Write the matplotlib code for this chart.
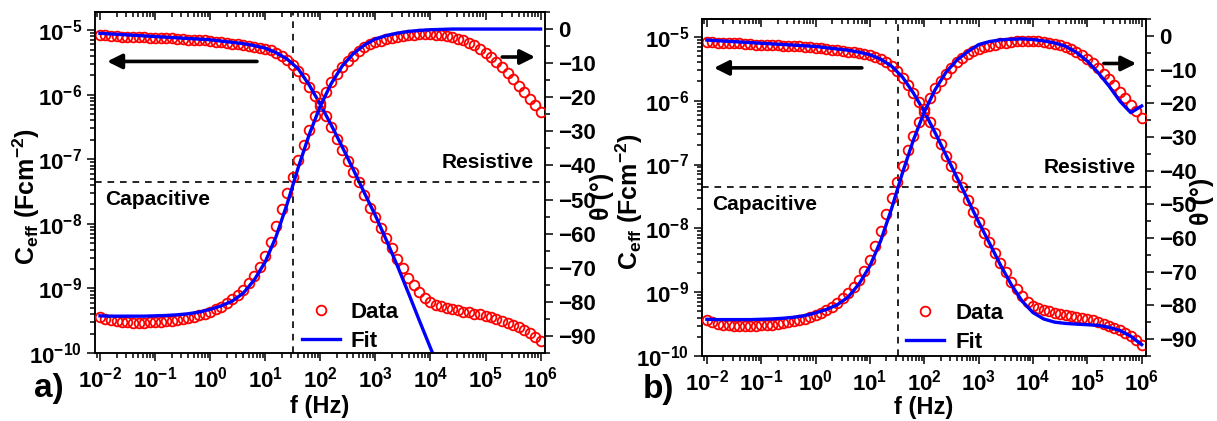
import numpy as np
import matplotlib
matplotlib.use('Agg')
import matplotlib.pyplot as plt
from matplotlib.ticker import LogLocator, FuncFormatter, NullFormatter, MultipleLocator

plt.rcParams['font.family'] = ['Liberation Sans', 'DejaVu Sans']
plt.rcParams['font.weight'] = 'bold'
plt.rcParams['mathtext.fontset'] = 'custom'
plt.rcParams['mathtext.rm'] = 'Liberation Sans:bold'
plt.rcParams['mathtext.it'] = 'Liberation Sans:bold'
plt.rcParams['mathtext.bf'] = 'Liberation Sans:bold'
plt.rcParams['axes.linewidth'] = 1.1

# measured frequencies (Hz), 10 points per decade
freq = [
    0.01, 0.0126, 0.0158, 0.02, 0.0251, 0.0316, 0.0398, 0.0501, 0.0631, 0.0794,
    0.1, 0.126, 0.158, 0.2, 0.251, 0.316, 0.398, 0.501, 0.631, 0.794,
    1.0, 1.26, 1.58, 2.0, 2.51, 3.16, 3.98, 5.01, 6.31, 7.94,
    10.0, 12.6, 15.8, 20.0, 25.1, 31.6, 39.8, 50.1, 63.1, 79.4,
    100.0, 126.0, 158.0, 200.0, 251.0, 316.0, 398.0, 501.0, 631.0, 794.0,
    1e3, 1.26e3, 1.58e3, 2e3, 2.51e3, 3.16e3, 3.98e3, 5.01e3, 6.31e3, 7.94e3,
    1e4, 1.26e4, 1.58e4, 2e4, 2.51e4, 3.16e4, 3.98e4, 5.01e4, 6.31e4, 7.94e4,
    1e5, 1.26e5, 1.58e5, 2e5, 2.51e5, 3.16e5, 3.98e5, 5.01e5, 6.31e5, 7.94e5,
    1e6,
]

# effective capacitance data (F cm^-2)
c_data = [
    8.32e-6, 8.32e-6, 8.13e-6, 8.13e-6, 7.94e-6, 7.94e-6, 7.94e-6, 7.76e-6, 7.76e-6, 7.59e-6,
    7.59e-6, 7.59e-6, 7.41e-6, 7.41e-6, 7.24e-6, 7.24e-6, 7.08e-6, 7.08e-6, 6.92e-6, 6.92e-6,
    6.76e-6, 6.61e-6, 6.46e-6, 6.31e-6, 6.17e-6, 6.03e-6, 5.89e-6, 5.75e-6, 5.50e-6, 5.37e-6,
    5.13e-6, 4.90e-6, 4.47e-6, 3.98e-6, 3.47e-6, 2.88e-6, 2.29e-6, 1.78e-6, 1.32e-6, 9.55e-7,
    6.76e-7, 4.68e-7, 3.16e-7, 2.09e-7, 1.38e-7, 9.33e-8, 6.31e-8, 4.37e-8, 2.82e-8, 1.78e-8,
    1.26e-8, 8.51e-9, 6.03e-9, 4.17e-9, 2.88e-9, 2.04e-9, 1.45e-9, 1.12e-9, 8.71e-10, 7.08e-10,
    6.17e-10, 5.62e-10, 5.25e-10, 5.01e-10, 4.79e-10, 4.57e-10, 4.37e-10, 4.27e-10, 4.07e-10, 3.98e-10,
    3.80e-10, 3.63e-10, 3.39e-10, 3.16e-10, 2.95e-10, 2.75e-10, 2.51e-10, 2.29e-10, 2.04e-10, 1.78e-10,
    1.51e-10,
]

# phase angle data (deg)
theta_data = [
    -84.4, -85.0, -85.4, -85.7, -85.9, -86.0, -86.1, -86.1, -86.1, -86.0,
    -85.9, -85.8, -85.7, -85.5, -85.3, -85.0, -84.7, -84.4, -84.0, -83.5,
    -82.9, -82.2, -81.4, -80.4, -79.2, -77.9, -76.4, -74.5, -72.3, -69.7,
    -66.6, -62.5, -57.9, -52.8, -48.0, -43.5, -38.5, -34.0, -29.6, -25.5,
    -21.8, -18.5, -15.6, -13.3, -11.2, -9.4, -7.8, -6.5, -5.4, -4.5,
    -3.9, -3.4, -3.0, -2.6, -2.2, -2.0, -1.8, -1.6, -1.5, -1.5,
    -1.5, -1.6, -1.8, -2.1, -2.4, -2.8, -3.3, -4.0, -4.8, -5.8,
    -6.9, -8.2, -9.6, -11.2, -12.9, -14.7, -16.6, -18.5, -20.4, -22.3,
    -24.3,
]

# frequencies of the fitted curves, 5 points per decade
freq_fit = [
    0.01, 0.0158, 0.0251, 0.0398, 0.0631,
    0.1, 0.158, 0.251, 0.398, 0.631,
    1.0, 1.58, 2.51, 3.98, 6.31,
    10.0, 15.8, 25.1, 39.8, 63.1,
    100.0, 158.0, 251.0, 398.0, 631.0,
    1e3, 1.58e3, 2.51e3, 3.98e3, 6.31e3,
    1e4, 1.58e4, 2.51e4, 3.98e4, 6.31e4,
    1e5, 1.58e5, 2.51e5, 3.98e5, 6.31e5,
    1e6,
]

# panel a fit
c_fit_a = [
    8.91e-6, 8.71e-6, 8.51e-6, 8.32e-6, 8.13e-6,
    7.94e-6, 7.76e-6, 7.59e-6, 7.41e-6, 7.24e-6,
    7.08e-6, 6.76e-6, 6.46e-6, 6.17e-6, 5.75e-6,
    5.25e-6, 4.47e-6, 3.55e-6, 2.51e-6, 1.41e-6,
    7.08e-7, 3.39e-7, 1.55e-7, 6.92e-8, 3.02e-8,
    1.35e-8, 5.62e-9, 2.24e-9, 8.51e-10, 3.16e-10,
    1.20e-10, 4.57e-11, 1.74e-11, 6.61e-12, 2.51e-12,
    9.55e-13, 3.63e-13, 1.38e-13, 5.25e-14, 2.00e-14,
    7.59e-15,
]
theta_fit_a = [
    -84.1, -84.2, -84.2, -84.2, -84.2,
    -84.1, -84.0, -83.8, -83.5, -83.0,
    -82.2, -81.2, -79.8, -77.5, -73.6,
    -68.3, -60.8, -51.2, -40.6, -30.9,
    -22.6, -16.0, -10.8, -7.2, -4.7,
    -2.9, -1.9, -1.2, -0.7, -0.4,
    -0.2, -0.1, 0.0, 0.0, 0.0,
    0.0, 0.0, 0.0, 0.0, 0.0,
    0.0,
]

# panel b fit
c_fit_b = [
    8.91e-6, 8.71e-6, 8.51e-6, 8.32e-6, 8.13e-6,
    7.94e-6, 7.76e-6, 7.59e-6, 7.41e-6, 7.24e-6,
    7.08e-6, 6.76e-6, 6.46e-6, 6.17e-6, 5.75e-6,
    5.25e-6, 4.47e-6, 3.47e-6, 2.34e-6, 1.32e-6,
    6.76e-7, 3.16e-7, 1.41e-7, 6.31e-8, 2.82e-8,
    1.26e-8, 5.89e-9, 2.69e-9, 1.32e-9, 7.24e-10,
    4.79e-10, 3.80e-10, 3.39e-10, 3.24e-10, 3.16e-10,
    3.09e-10, 3.02e-10, 2.82e-10, 2.51e-10, 2.04e-10,
    1.51e-10,
]
theta_fit_b = [
    -84.1, -84.2, -84.2, -84.2, -84.2,
    -84.1, -84.0, -83.8, -83.5, -83.0,
    -82.2, -81.2, -79.8, -77.5, -73.6,
    -68.3, -60.8, -51.2, -40.6, -30.9,
    -22.6, -16.0, -10.8, -7.2, -4.7,
    -2.6, -1.7, -1.2, -1.0, -0.9,
    -1.1, -1.5, -2.1, -3.1, -4.9,
    -7.5, -10.9, -14.9, -19.4, -22.8,
    -20.8,
]

f_cross = 32.4       # frequency where theta = -45 deg
theta_cross = -45.0

RED = '#ff0000'
BLUE = '#0000ff'


def log_label(v, pos):
    e = int(round(np.log10(v)))
    return r'$10^{%d}$' % e


def draw_panel(rect, c_fit, theta_fit, letter, letter_pos, geom):
    ax = fig.add_axes(rect)
    ax2 = ax.twinx()

    ax.plot(freq, c_data, 'o', mfc='none', mec=RED, ms=7, mew=1.3, zorder=3)
    ax.plot(freq_fit, c_fit, '-', color=BLUE, lw=2.4, zorder=4)
    ax2.plot(freq, theta_data, 'o', mfc='none', mec=RED, ms=7, mew=1.3, zorder=3, label='Data')
    ax2.plot(freq_fit, theta_fit, '-', color=BLUE, lw=2.4, zorder=4, label='Fit')

    ax.set_xscale('log')
    ax.set_yscale('log')
    ax.set_xlim(10 ** -2.09, 10 ** 6.08)
    ax.set_ylim(1e-10, 10 ** -4.72)
    ax2.set_ylim(-95, 5)

    ax.axvline(f_cross, color='black', ls=(0, (4, 3.5)), lw=1.2, zorder=2)
    ax2.axhline(theta_cross, color='black', ls=(0, (4, 3.5)), lw=1.2, zorder=2)

    ax.xaxis.set_major_locator(LogLocator(base=10, numticks=20))
    ax.xaxis.set_minor_locator(LogLocator(base=10, subs=np.arange(2, 10), numticks=20))
    ax.xaxis.set_major_formatter(FuncFormatter(log_label))
    ax.xaxis.set_minor_formatter(NullFormatter())
    ax.yaxis.set_major_locator(LogLocator(base=10, numticks=20))
    ax.yaxis.set_minor_locator(LogLocator(base=10, subs=np.arange(2, 10), numticks=20))
    ax.yaxis.set_major_formatter(FuncFormatter(log_label))
    ax.yaxis.set_minor_formatter(NullFormatter())
    ax2.yaxis.set_major_locator(MultipleLocator(10))
    ax2.yaxis.set_minor_locator(MultipleLocator(5))

    ax.tick_params(which='both', direction='out', width=1.1, labelsize=16, right=False)
    ax.tick_params(which='major', length=6)
    ax.tick_params(which='minor', length=3.5)
    ax2.tick_params(which='both', direction='out', width=1.1, labelsize=16)
    ax2.tick_params(which='major', length=6)
    ax2.tick_params(which='minor', length=3.5)

    top = ax.secondary_xaxis('top')
    top.set_xscale('log')
    top.xaxis.set_major_locator(LogLocator(base=10, numticks=20))
    top.xaxis.set_minor_locator(LogLocator(base=10, subs=np.arange(2, 10), numticks=20))
    top.tick_params(which='both', direction='in', labeltop=False, width=1.1)
    top.tick_params(which='major', length=6)
    top.tick_params(which='minor', length=3.5)

    ax.set_xlabel('f (Hz)', fontsize=17, fontweight='bold')
    ax.xaxis.set_label_coords(0.5, geom['xlab_y'])
    ax.set_ylabel(r'C$_{eff}$ (Fcm$^{-2}$)', fontsize=18, fontweight='bold')
    ax.yaxis.set_label_coords(geom['ylab_x'], 0.46)
    ax2.set_ylabel('θ (°)', fontsize=18, fontweight='bold', rotation=90)
    ax2.yaxis.set_label_coords(geom['y2lab_x'], 0.46)

    ax.text(0.022, 0.45, 'Capacitive', transform=ax.transAxes, fontsize=15,
            fontweight='bold', ha='left', va='center')
    ax.text(0.976, 0.558, 'Resistive', transform=ax.transAxes, fontsize=15,
            fontweight='bold', ha='right', va='center')

    arrow = dict(arrowstyle='-|>', lw=2.6, color='black', mutation_scale=22,
                 shrinkA=0, shrinkB=0)
    ax.annotate('', xy=(0.027, 0.855), xytext=(0.36, 0.855),
                xycoords='axes fraction', arrowprops=arrow)
    ax.annotate('', xy=(0.978, 0.868), xytext=(0.905, 0.868),
                xycoords='axes fraction', arrowprops=arrow)

    ax2.legend(loc='lower left', bbox_to_anchor=geom['leg'], frameon=False,
               handlelength=1.7, handletextpad=0.5, labelspacing=0.35,
               prop={'weight': 'bold', 'size': 16})

    fig.text(letter_pos[0], letter_pos[1], letter, fontsize=24, fontweight='bold',
             ha='center', va='center')
    return ax, ax2


fig = plt.figure(figsize=(12.17, 4.21), dpi=100)

draw_panel([95 / 1217, 68 / 421, 450 / 1217, 341 / 421], c_fit_a, theta_fit_a, 'a)',
           (0.040, 0.078),
           dict(xlab_y=-0.122, ylab_x=-0.118, y2lab_x=1.10, leg=(0.415, -0.055)))
draw_panel([702 / 1217, 65 / 421, 444 / 1217, 337 / 421], c_fit_b, theta_fit_b, 'b)',
           (0.541, 0.076),
           dict(xlab_y=-0.118, ylab_x=-0.128, y2lab_x=1.10, leg=(0.415, -0.05)))

fig.savefig('out.png', dpi=100)
